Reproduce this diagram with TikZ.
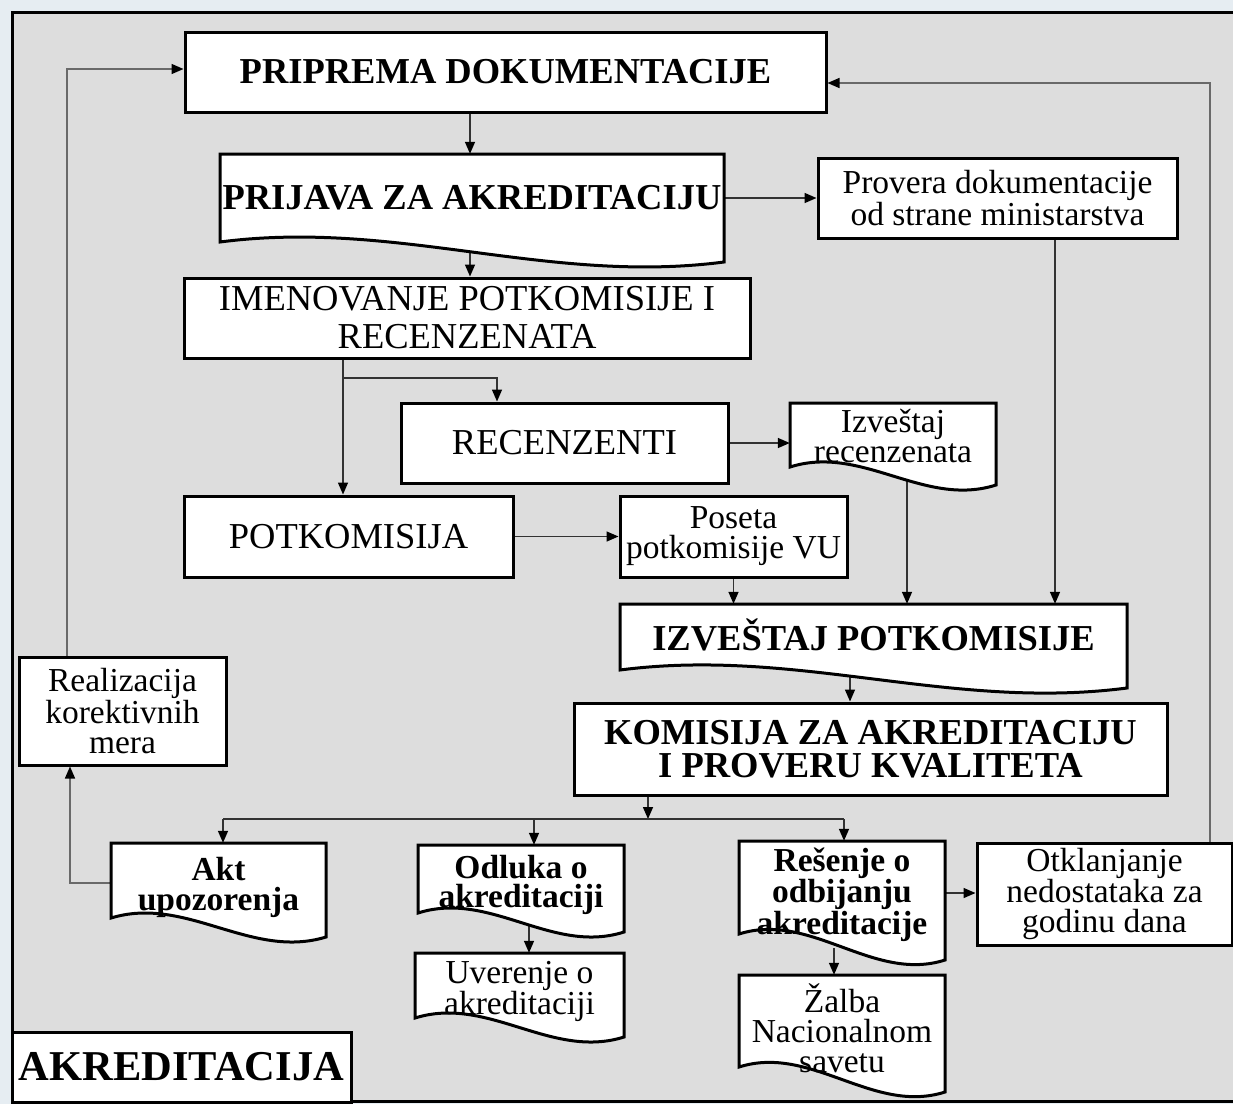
\documentclass[tikz,border=0pt]{standalone}
\usepackage{fontspec}
\setmainfont{Liberation Serif}
\usetikzlibrary{arrows.meta}
\pgfdeclarelayer{bg}\pgfdeclarelayer{conn}
\pgfsetlayers{bg,conn,main}
\definecolor{panel}{RGB}{221,221,221}
\definecolor{topband}{RGB}{230,237,242}
\definecolor{lnk}{RGB}{50,50,50}
\definecolor{fb}{RGB}{105,105,105}
\tikzset{
 boxline/.style={line width=3pt, draw=black, line join=miter},
 rbox/.style={boxline, fill=white, inner sep=0pt, align=center},
 bigb/.style={font=\fontsize{36.5}{33}\selectfont\bfseries},
 bigr/.style={font=\fontsize{36.5}{38}\selectfont},
 smr/.style={font=\fontsize{33.5}{30}\selectfont},
 smb/.style={font=\fontsize{33.5}{29.5}\selectfont\bfseries},
 txt/.style={inner sep=0pt, align=center},
 arr/.style={draw=lnk, line width=1.5pt, -{Triangle[length=12pt,width=10pt,color=black]}},
 ln/.style={draw=lnk, line width=1.5pt},
 fbarr/.style={draw=fb, line width=1.5pt, -{Triangle[length=12pt,width=10pt,color=black]}}
}
% document shape: x1, y1, x2, yL, yR
\newcommand\docpath[5]{%
  \pgfmathsetmacro\dpw{#3-#1}%
  \draw[boxline,fill=white] (#1,#2) -- (#3,#2) -- (#3,#5) .. controls ({#3-0.35*\dpw},{#5+23}) and ({#1+0.35*\dpw},{#4-23}) .. (#1,#4) -- cycle;}
% name, x1, y1, x2, yL, yR, style, text, downward text shift
\newcommand\docnode[9]{%
  \docpath{#2}{#3}{#4}{#5}{#6}%
  \node[txt,#7,minimum width={#4-#2}, minimum height={#5-#3+2*#9}] (#1) at ({(#2+#4)/2},{(#3+#5)/2+#9}) {#8};}
\begin{document}
\begin{tikzpicture}[x=1pt,y=-1pt]
\useasboundingbox (0,0) rectangle (1233,1104);
\begin{pgfonlayer}{bg}
\fill[topband] (0,0) rectangle (1233,1104);
\filldraw[fill=panel, draw=black, line width=3pt] (12,12) rectangle (1250,1101);
\end{pgfonlayer}

% boxes
\node[rbox, bigb, minimum width=641, minimum height=80] (pri) at (505.5,72) {PRIPREMA DOKUMENTACIJE};
\docnode{prij}{220}{154}{724}{242}{262}{bigb}{PRIJAVA ZA AKREDITACIJU}{0}
\node[rbox, bigr, minimum width=566, minimum height=80] (imen) at (467,318) {IMENOVANJE POTKOMISIJE I\\RECENZENATA};
\node[rbox, smr, minimum width=359, minimum height=80] (prov) at (997.5,198) {Provera dokumentacije\\od strane ministarstva};
\node[rbox, bigr, minimum width=327, minimum height=80] (rec) at (564.5,443) {RECENZENTI};
\docnode{irec}{790}{403}{996}{467}{485}{smr}{Izveštaj\\recenzenata}{1}
\node[rbox, bigr, minimum width=329, minimum height=81] (potk) at (348.5,536.5) {POTKOMISIJA};
\node[rbox, smr, minimum width=227, minimum height=81] (pos) at (733.5,536.5) {Poseta\\potkomisije VU};
\docnode{izp}{620}{604}{1127}{670}{688}{bigb}{IZVEŠTAJ POTKOMISIJE}{-2}
\node[rbox, bigb, minimum width=593, minimum height=92] (kom) at (870.5,749) {KOMISIJA ZA AKREDITACIJU\\I PROVERU KVALITETA};
\node[rbox, smr, minimum width=207, minimum height=108] (real) at (122.5,711) {Realizacija\\korektivnih\\mera};
\docnode{akt}{111}{843}{326}{918}{937}{smb}{Akt\\upozorenja}{7}
\docnode{odl}{418}{845}{624}{913}{932}{smb}{Odluka o\\akreditaciji}{6}
\docnode{uve}{415}{953}{624}{1018}{1037}{smr}{Uverenje o\\akreditaciji}{6}
\docnode{res}{739}{841}{945}{934}{960}{smb}{Rešenje o\\odbijanju\\akreditacije}{7}
\node[rbox, smr, minimum width=255, minimum height=102] (otk) at (1104.5,894) {Otklanjanje\\nedostataka za\\godinu dana};
\docnode{zal}{739}{975}{945}{1067}{1092}{smr}{Žalba\\Nacionalnom\\savetu}{7}
\node[rbox, font=\fontsize{42.5}{40}\selectfont\bfseries, minimum width=339, minimum height=70] (akr) at (181.5,1067) {AKREDITACIJA};

% connectors
\begin{pgfonlayer}{conn}
\draw[arr] (pri.south -| 470,0) -- (prij.north -| 470,0);
\draw[arr] (prij.south -| 470,0) -- (imen.north -| 470,0);
\draw[arr] (prij.east) -- (prov.west);
\draw[arr] (imen.south -| 343,0) -- (potk.north -| 343,0);
\coordinate (j1) at (343,378);
\draw[arr] (j1) -- (497,378) -- (rec.north -| 497,0);
\draw[arr] (rec.east) -- (rec.east -| irec.west);
\draw[arr] (potk.east) -- (pos.west);
\draw[arr] (pos.south) -- (pos.south |- izp.north);
\draw[arr] (irec.south -| 907,0) -- (izp.north -| 907,0);
\draw[arr] (prov.south -| 1055,0) -- (izp.north -| 1055,0);
\draw[arr] (izp.south -| 850,0) -- (kom.north -| 850,0);
\coordinate (jk) at (648,819);
\coordinate (jl) at (223,819);
\coordinate (jm) at (534,819);
\coordinate (jr) at (844,819);
\draw[arr] (kom.south -| jk) -- (jk);
\draw[ln] (jl) -- (jr);
\draw[arr] (jl) -- (akt.north -| jl);
\draw[arr] (jm) -- (odl.north -| jm);
\draw[arr] (jr) -- (res.north -| jr);
\draw[fbarr] (akt.west |- 0,883) -- (70,883) -- (real.south -| 70,0);
\draw[fbarr] (real.north -| 67,0) -- (67,69) -- (pri.west |- 0,69);
\draw[arr] (odl.south -| 529,0) -- (uve.north -| 529,0);
\draw[arr] (res.east |- 0,893) -- (otk.west |- 0,893);
\draw[arr] (res.south -| 834,0) -- (zal.north -| 834,0);
\draw[fbarr] (otk.north -| 1210,0) -- (1210,83) -- (pri.east |- 0,83);
\end{pgfonlayer}
\end{tikzpicture}
\end{document}
